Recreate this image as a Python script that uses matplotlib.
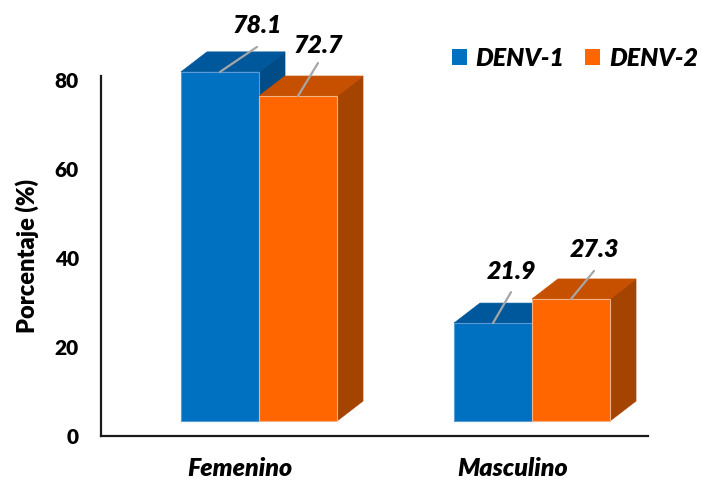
import matplotlib
matplotlib.use("Agg")
import matplotlib.pyplot as plt
from matplotlib.patches import Polygon, Patch

# ---- data ----
categories = ["Femenino", "Masculino"]
series_names = ["DENV-1", "DENV-2"]
denv1 = [78.1, 21.9]
denv2 = [72.7, 27.3]
yticks = [0, 20, 40, 60, 80]
ylabel = "Porcentaje (%)"

# ---- style ----
FONT = "Lato"
WEIGHT = "heavy"
front_cols = ["#0070C0", "#FF6600"]
top_cols = ["#00589C", "#C65000"]
side_cols = ["#004C86", "#A54300"]
edge_cols = ["#5B9BD5", "#F4B183"]
leader_col = "#A6A6A6"

W, H, DPI = 7.01, 4.82, 100
fig = plt.figure(figsize=(W, H), dpi=DPI)
fig.patch.set_facecolor("white")

# pixel helpers (y measured from top of the image)
def fx(px):
    return px / (W * DPI)

def fy(py):
    return (H * DPI - py) / (H * DPI)

left_px, right_px = 101, 648
group_gap_px = 273.0
bar_w_px = 78.0
g0_px = 259.0
xmin = -(g0_px - left_px) / group_gap_px
xmax = xmin + (right_px - left_px) / group_gap_px
bar_w = bar_w_px / group_gap_px

# frame axes: spines + value ticks
axf = fig.add_axes([fx(left_px), fy(436), fx(right_px - left_px), fy(75.5) - fy(436)])
axf.set_xlim(xmin, xmax)
axf.set_ylim(0, 81)
axf.set_yticks(yticks)
axf.set_yticklabels([str(t) for t in yticks], fontsize=15, fontweight=WEIGHT, family=FONT)
axf.set_xticks([])
axf.tick_params(axis="y", length=0, pad=16)
for s in ["top", "right"]:
    axf.spines[s].set_visible(False)
for s in ["left", "bottom"]:
    axf.spines[s].set_linewidth(1.6)
    axf.spines[s].set_color("#1a1a1a")
axf.set_ylabel(ylabel, fontsize=17, fontweight=WEIGHT, family=FONT, labelpad=11)
axf.patch.set_alpha(0)

# bar axes: 3D-looking columns
axb = fig.add_axes([fx(left_px), fy(421), fx(right_px - left_px), fy(421 - 80 * 4.47) - fy(421)])
axb.set_xlim(xmin, xmax)
axb.set_ylim(0, 80)
axb.axis("off")
axb.patch.set_alpha(0)

ax_w_px = (right_px - left_px)
ax_h_px = 80 * 4.47
ddx = 26 * (xmax - xmin) / ax_w_px
ddy = 20 * 80 / ax_h_px


def bar3d(ax, x0, w, h, k):
    front = Polygon([(x0, 0), (x0 + w, 0), (x0 + w, h), (x0, h)], closed=True,
                    facecolor=front_cols[k], edgecolor=edge_cols[k], lw=0.8, clip_on=False)
    top = Polygon([(x0, h), (x0 + w, h), (x0 + w + ddx, h + ddy), (x0 + ddx, h + ddy)],
                  closed=True, facecolor=top_cols[k], edgecolor=top_cols[k], lw=0.5, clip_on=False)
    side = Polygon([(x0 + w, 0), (x0 + w + ddx, ddy), (x0 + w + ddx, h + ddy), (x0 + w, h)],
                   closed=True, facecolor=side_cols[k], edgecolor=side_cols[k], lw=0.5, clip_on=False)
    for p in (side, top, front):
        ax.add_patch(p)


# label offsets in pixels: (leader dx, leader dy, text dy)
label_offsets = [[(37, 25, 46), (20, 33, 51)],
                 [(18, 31, 52), (23, 28, 49)]]

for gi, cat in enumerate(categories):
    vals = [denv1[gi], denv2[gi]]
    for k, v in enumerate(vals):
        x0 = gi - bar_w + k * bar_w
        bar3d(axb, x0, bar_w, v, k)
    for k, v in enumerate(vals):
        xc = gi - bar_w + k * bar_w + bar_w / 2
        ldx, ldy, tdy = label_offsets[gi][k]
        axb.annotate("", xy=(xc, v), xytext=(ldx, ldy), textcoords="offset pixels",
                     arrowprops=dict(arrowstyle="-", color=leader_col, lw=1.6,
                                     shrinkA=0, shrinkB=0), annotation_clip=False)
        axb.annotate(f"{v:.1f}", xy=(xc, v), xytext=(ldx, tdy), textcoords="offset pixels",
                     ha="center", va="center", fontsize=18, fontweight=WEIGHT,
                     fontstyle="italic", family=FONT, annotation_clip=False)
    axb.annotate(cat, xy=(gi, 0), xytext=(-19, -47), textcoords="offset pixels",
                 ha="center", va="center", fontsize=18, fontweight=WEIGHT,
                 fontstyle="italic", family=FONT, annotation_clip=False)

handles = [Patch(facecolor=front_cols[k], edgecolor="none") for k in range(2)]
leg = fig.legend(handles, series_names, loc="center right", bbox_to_anchor=(fx(698), fy(58)),
                 ncol=2, frameon=False, handlelength=0.62, handleheight=0.62,
                 handletextpad=0.35, columnspacing=0.8, borderpad=0, borderaxespad=0,
                 prop=dict(family=FONT, weight=WEIGHT, style="italic", size=18))

fig.savefig("out.png", dpi=DPI)
